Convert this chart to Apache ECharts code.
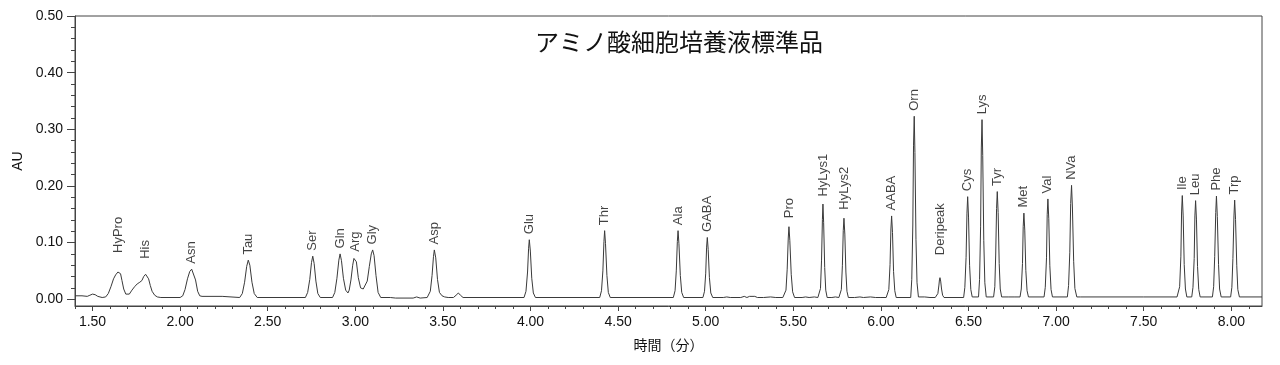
<!DOCTYPE html>
<html><head><meta charset="utf-8">
<script src="https://cdn.jsdelivr.net/npm/echarts@6/dist/echarts.min.js"></script>
<style>html,body{margin:0;padding:0;background:#fff}#c{width:1280px;height:365px}</style>
</head><body><div id="c"></div>
<script>
// ---- data ----
const chartTitle = 'アミノ酸細胞培養液標準品';
const xName = '時間（分）';
const yName = 'AU';
const peakNames = ['HyPro','His','Asn','Tau','Ser','Gln','Arg','Gly','Asp','Glu','Thr','Ala','GABA','Pro','HyLys1','HyLys2','AABA','Orn','Deripeak','Cys','Lys','Tyr','Met','Val','NVa','Ile','Leu','Phe','Trp'];
const peakTimes = [1.648,1.803,2.066,2.389,2.757,2.913,2.998,3.099,3.451,3.993,4.423,4.842,5.009,5.475,5.669,5.789,6.061,6.190,6.337,6.495,6.577,6.664,6.816,6.953,7.088,7.720,7.796,7.915,8.019];
const peakHeights = [0.049,0.044,0.053,0.069,0.076,0.080,0.074,0.087,0.087,0.105,0.121,0.121,0.109,0.128,0.168,0.143,0.147,0.323,0.038,0.181,0.317,0.190,0.152,0.177,0.201,0.183,0.174,0.182,0.175];
const xTickValues = [1.5,2.0,2.5,3.0,3.5,4.0,4.5,5.0,5.5,6.0,6.5,7.0,7.5,8.0];
const yTickValues = [0,0.1,0.2,0.3,0.4,0.5];
const trace = [
[1.400,0.006],[1.440,0.006],[1.470,0.005],[1.485,0.007],[1.500,0.009],[1.515,0.008],[1.530,0.005],[1.555,0.003],[1.575,0.004],
[1.590,0.010],[1.605,0.022],[1.620,0.036],[1.632,0.043],[1.645,0.048],[1.652,0.049],[1.660,0.045],[1.668,0.033],[1.678,0.018],[1.690,0.009],[1.700,0.007],[1.710,0.009],
[1.725,0.016],[1.740,0.022],[1.755,0.027],[1.770,0.030],[1.782,0.033],[1.792,0.040],[1.803,0.044],[1.810,0.043],[1.820,0.036],[1.830,0.024],[1.840,0.014],[1.855,0.007],[1.870,0.004],[1.890,0.003],
[2.000,0.003],[2.015,0.006],[2.028,0.017],[2.042,0.036],[2.055,0.049],[2.066,0.053],[2.075,0.050],[2.088,0.034],[2.100,0.014],[2.112,0.006],[2.125,0.005],[2.240,0.005],[2.250,0.003],
[2.340,0.003],[2.355,0.010],[2.368,0.030],[2.380,0.058],[2.389,0.069],[2.398,0.060],[2.410,0.030],[2.423,0.010],[2.440,0.003],
[2.715,0.003],[2.728,0.012],[2.740,0.035],[2.750,0.065],[2.757,0.076],[2.765,0.063],[2.775,0.032],[2.786,0.010],[2.800,0.003],
[2.870,0.003],[2.883,0.012],[2.895,0.037],[2.906,0.069],[2.913,0.080],[2.921,0.068],[2.932,0.037],[2.945,0.016],[2.958,0.011],
[2.965,0.016],[2.975,0.034],[2.985,0.060],[2.992,0.072],[2.998,0.074],[3.006,0.066],[3.017,0.038],[3.030,0.020],[3.045,0.018],
[3.055,0.020],[3.068,0.032],[3.080,0.058],[3.091,0.080],[3.099,0.087],[3.107,0.077],[3.118,0.042],[3.130,0.012],[3.145,0.003],
[3.200,0.003],[3.230,0.002],[3.330,0.002],[3.350,0.004],[3.370,0.002],[3.410,0.003],
[3.415,0.003],[3.428,0.014],[3.438,0.042],[3.446,0.075],[3.451,0.087],[3.459,0.073],[3.469,0.035],[3.480,0.012],[3.495,0.006],[3.510,0.004],[3.530,0.003],
[3.560,0.003],[3.575,0.007],[3.588,0.011],[3.600,0.007],[3.615,0.003],
[3.963,0.003],[3.974,0.014],[3.983,0.048],[3.989,0.090],[3.993,0.105],[3.999,0.085],[4.007,0.037],[4.016,0.011],[4.028,0.003],
[4.395,0.003],[4.405,0.015],[4.413,0.050],[4.419,0.102],[4.423,0.121],[4.428,0.098],[4.436,0.042],[4.444,0.012],[4.455,0.003],
[4.815,0.003],[4.825,0.015],[4.832,0.050],[4.838,0.102],[4.842,0.121],[4.847,0.098],[4.855,0.042],[4.863,0.012],[4.874,0.003],
[4.984,0.003],[4.993,0.014],[5.000,0.046],[5.005,0.092],[5.009,0.109],[5.014,0.088],[5.021,0.038],[5.029,0.011],[5.040,0.003],
[5.100,0.003],[5.120,0.004],[5.140,0.003],[5.200,0.003],[5.220,0.005],[5.235,0.003],[5.250,0.005],[5.260,0.003],[5.280,0.005],[5.295,0.003],[5.330,0.003],[5.370,0.004],[5.400,0.003],[5.440,0.003],
[5.448,0.003],[5.458,0.016],[5.465,0.053],[5.471,0.108],[5.475,0.128],[5.480,0.104],[5.488,0.044],[5.496,0.013],[5.507,0.003],
[5.550,0.003],[5.570,0.004],[5.590,0.003],[5.620,0.004],[5.640,0.003],
[5.648,0.003],[5.655,0.019],[5.661,0.069],[5.666,0.141],[5.669,0.168],[5.673,0.135],[5.679,0.056],[5.685,0.016],[5.693,0.003],
[5.720,0.003],[5.740,0.004],[5.760,0.003],
[5.767,0.003],[5.774,0.017],[5.780,0.059],[5.785,0.121],[5.789,0.143],[5.794,0.115],[5.800,0.048],[5.806,0.014],[5.814,0.003],
[5.850,0.003],[5.880,0.004],[5.900,0.003],[5.940,0.004],[5.970,0.003],[6.000,0.003],[6.030,0.003],
[6.038,0.003],[6.045,0.017],[6.052,0.061],[6.057,0.124],[6.061,0.147],[6.066,0.118],[6.072,0.049],[6.079,0.015],[6.087,0.003],
[6.170,0.003],[6.176,0.035],[6.182,0.131],[6.186,0.272],[6.190,0.323],[6.194,0.259],[6.200,0.105],[6.206,0.029],[6.214,0.004],
[6.250,0.004],[6.280,0.003],[6.310,0.003],
[6.318,0.003],[6.325,0.010],[6.331,0.025],[6.334,0.034],[6.337,0.038],[6.341,0.032],[6.346,0.018],[6.352,0.007],[6.360,0.003],
[6.472,0.003],[6.479,0.021],[6.486,0.074],[6.491,0.152],[6.495,0.181],[6.500,0.145],[6.506,0.060],[6.513,0.017],[6.521,0.004],
[6.557,0.004],[6.563,0.035],[6.569,0.129],[6.573,0.267],[6.577,0.317],[6.581,0.254],[6.587,0.104],[6.593,0.029],[6.601,0.004],
[6.643,0.004],[6.650,0.022],[6.655,0.078],[6.660,0.160],[6.664,0.190],[6.669,0.153],[6.675,0.063],[6.681,0.018],[6.689,0.004],
[6.730,0.004],[6.760,0.004],
[6.794,0.004],[6.801,0.018],[6.808,0.063],[6.812,0.128],[6.816,0.152],[6.821,0.122],[6.827,0.051],[6.834,0.015],[6.842,0.004],
[6.931,0.004],[6.938,0.021],[6.945,0.073],[6.949,0.149],[6.953,0.177],[6.958,0.142],[6.964,0.059],[6.971,0.017],[6.979,0.004],
[7.064,0.004],[7.071,0.024],[7.078,0.083],[7.083,0.169],[7.088,0.201],[7.093,0.161],[7.100,0.067],[7.107,0.019],[7.118,0.004],[7.140,0.004],
[7.500,0.004],[7.690,0.004],
[7.698,0.004],[7.705,0.022],[7.712,0.076],[7.716,0.154],[7.720,0.183],[7.725,0.147],[7.731,0.061],[7.738,0.018],[7.746,0.004],
[7.774,0.004],[7.781,0.021],[7.788,0.072],[7.792,0.147],[7.796,0.174],[7.801,0.140],[7.807,0.058],[7.814,0.017],[7.822,0.004],
[7.892,0.004],[7.899,0.022],[7.905,0.075],[7.911,0.153],[7.915,0.182],[7.920,0.146],[7.927,0.061],[7.933,0.018],[7.942,0.004],
[7.996,0.004],[8.003,0.021],[8.009,0.072],[8.015,0.147],[8.019,0.175],[8.024,0.141],[8.031,0.059],[8.037,0.017],[8.046,0.004],[8.175,0.004]
];

// ---- layout / style ----
const X_MIN = 1.40, X_MAX = 8.175, Y_MIN = -0.012, Y_MAX = 0.5;
const labelGap = {HyPro: 18, His: 15, Deripeak: 22, Pro: 8, HyLys1: 7, HyLys2: 8};
const FONT = '"Liberation Sans", Arial, sans-serif';
const AXIS_COLOR = '#444';
const TEXT_COLOR = '#111';

const xMinor = [];
for (let i = 0; i <= 67; i++) {
  const v = +(1.4 + i * 0.1).toFixed(1);
  if (Math.abs(v * 2 - Math.round(v * 2)) > 1e-6) xMinor.push(v);
}
const yMinor = [];
for (let i = 1; i < 25; i++) {
  const v = +(i * 0.02).toFixed(2);
  if (i % 5 !== 0) yMinor.push(v);
}

const labelData = peakNames.map((n, i) => ({
  value: [peakTimes[i], peakHeights[i]],
  name: n,
  label: { distance: labelGap[n] !== undefined ? labelGap[n] : 5 }
}));

const chart = echarts.init(document.getElementById('c'), null, { renderer: 'canvas' });
chart.setOption({
  animation: false,
  backgroundColor: '#fff',
  title: {
    text: chartTitle,
    left: 530, top: 25,
    textStyle: { fontFamily: '"Noto Sans CJK JP", sans-serif', fontSize: 24, fontWeight: 'normal', color: '#111' }
  },
  grid: { left: 75, right: 18, top: 16, bottom: 59, show: true, borderColor: AXIS_COLOR, borderWidth: 1, backgroundColor: 'transparent' },
  xAxis: [{
    type: 'value', min: X_MIN, max: X_MAX, position: 'bottom',
    name: xName, nameLocation: 'middle', nameGap: 32,
    nameTextStyle: { fontFamily: '"Noto Sans CJK JP", sans-serif', fontSize: 14, color: TEXT_COLOR },
    axisLine: { show: true, onZero: false, lineStyle: { color: AXIS_COLOR, width: 1 } },
    axisTick: { show: true, length: 5, customValues: xTickValues, lineStyle: { color: AXIS_COLOR } },
    axisLabel: { show: true, customValues: xTickValues, margin: 9, fontFamily: FONT, fontSize: 14, color: TEXT_COLOR, formatter: v => v.toFixed(2) },
    splitLine: { show: false }
  }, {
    type: 'value', min: X_MIN, max: X_MAX, position: 'bottom', offset: 0,
    axisLine: { show: false, onZero: false },
    axisTick: { show: true, length: 3, customValues: xMinor, lineStyle: { color: AXIS_COLOR } },
    axisLabel: { show: false },
    splitLine: { show: false }
  }],
  yAxis: [{
    type: 'value', min: Y_MIN, max: Y_MAX, position: 'left',
    name: yName, nameLocation: 'middle', nameGap: 38, nameRotate: 90,
    nameTextStyle: { fontFamily: FONT, fontSize: 14, color: TEXT_COLOR },
    axisLine: { show: true, onZero: false, lineStyle: { color: AXIS_COLOR, width: 1 } },
    axisTick: { show: true, length: 8, customValues: yTickValues, lineStyle: { color: AXIS_COLOR } },
    axisLabel: { show: true, customValues: yTickValues, margin: 12, fontFamily: FONT, fontSize: 14, color: TEXT_COLOR, formatter: v => v.toFixed(2) },
    splitLine: { show: false }
  }, {
    type: 'value', min: Y_MIN, max: Y_MAX, position: 'left', offset: 0,
    axisLine: { show: false, onZero: false },
    axisTick: { show: true, length: 4, customValues: yMinor, lineStyle: { color: AXIS_COLOR } },
    axisLabel: { show: false },
    splitLine: { show: false }
  }],
  series: [{
    type: 'line', xAxisIndex: 0, yAxisIndex: 0,
    data: trace, showSymbol: false, symbol: 'none', smooth: false,
    lineStyle: { color: '#3a3a3a', width: 1 },
    silent: true, z: 2
  }, {
    type: 'scatter', xAxisIndex: 0, yAxisIndex: 0,
    data: labelData, symbolSize: 1,
    itemStyle: { color: 'rgba(0,0,0,0)' },
    label: {
      show: true, position: 'top', rotate: 90, align: 'left', verticalAlign: 'middle',
      formatter: p => p.name, fontFamily: FONT, fontSize: 13, color: TEXT_COLOR
    },
    silent: true, z: 3
  }]
});
</script>
</body></html>
